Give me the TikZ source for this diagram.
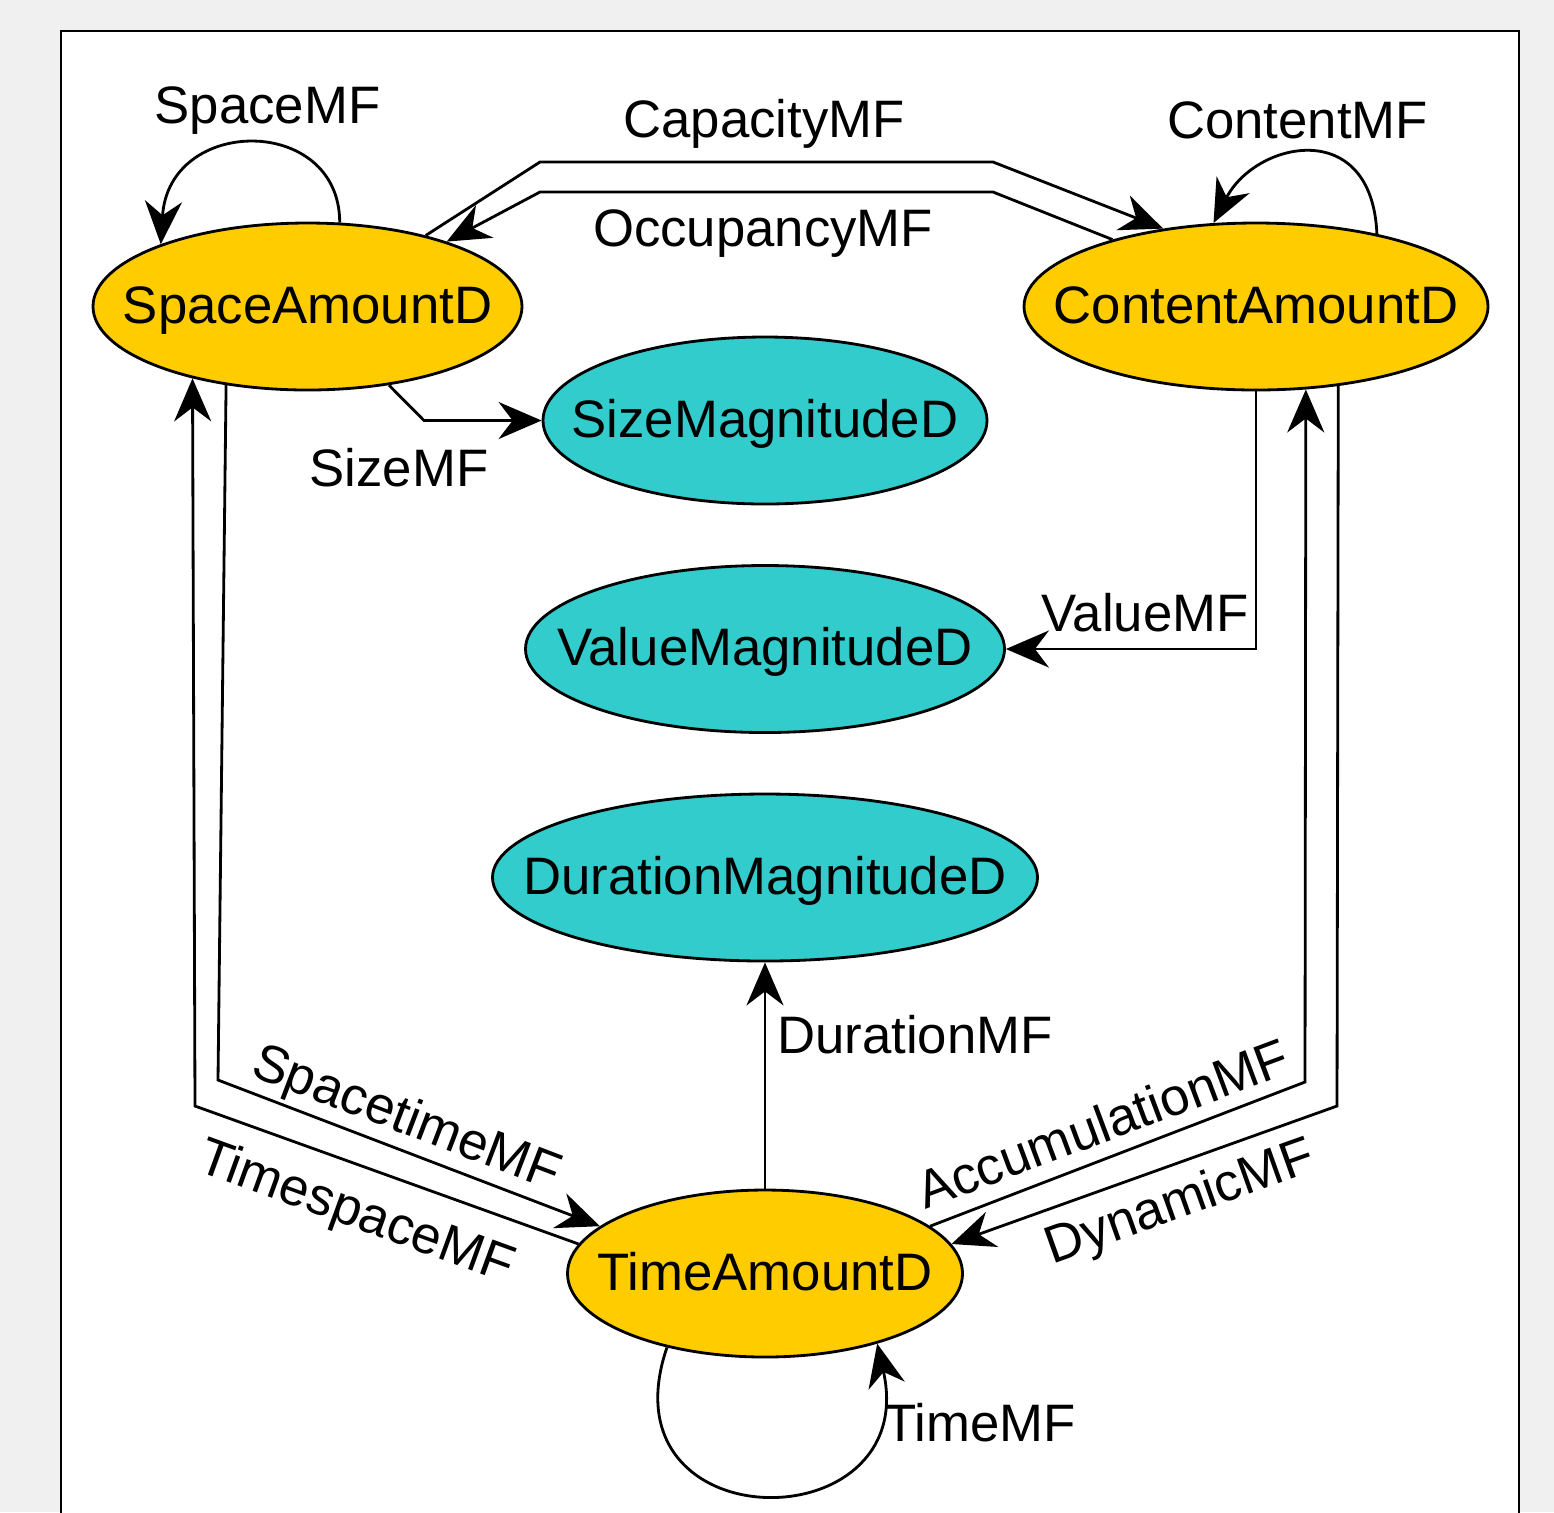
\documentclass[tikz,border=0pt]{standalone}
\usepackage{fontspec}
\setmainfont{Liberation Sans}
\usetikzlibrary{arrows.meta,positioning,shapes.geometric}
\definecolor{amountfill}{HTML}{FFCC00}
\definecolor{magfill}{HTML}{33CCCC}
\definecolor{canvas}{HTML}{F0F0F0}
\tikzstyle{amount}=[ellipse,draw=black,line width=0.8pt,fill=amountfill,
minimum height=1.67cm,inner sep=0pt]
\tikzstyle{magnitude}=[ellipse,draw=black,line width=0.8pt,fill=magfill,
minimum height=1.67cm,inner sep=0pt]
\tikzstyle{mf}=[line width=0.8pt,->]
\tikzstyle{mflabel}=[inner sep=0pt,anchor=base]

\begin{document}
\begin{tikzpicture}[node distance=2.285cm,
    >={Stealth[length=4.3mm,width=3.7mm,inset=1.4mm]},
    font=\fontsize{15}{18}\selectfont,
    every label/.style={inner sep=0pt,text height=0.95em,text depth=0pt}]
            \useasboundingbox (0,0) rectangle (15.54,-15.12);
            \fill[canvas] (0,0) rectangle (15.54,-15.12);
            \draw[fill=white,line width=0.6pt] (0.61,-0.31) rectangle (15.19,-15.40);

            % DOMAINS

            \node[amount,minimum width=4.29cm,label=center:SpaceAmountD] (space) at (3.075,-3.065) {};
            \node[amount,minimum width=4.64cm,label=center:ContentAmountD] (content) at (12.56,-3.065) {};
            \node[magnitude,minimum width=4.44cm,label=center:SizeMagnitudeD] (size) at (7.65,-4.205) {};
            \node[magnitude,minimum width=4.79cm,below of=size,label=center:ValueMagnitudeD] (value) {};
            \node[magnitude,minimum width=5.45cm,below of=value,label=center:DurationMagnitudeD] (duration) {};
            \node[amount,minimum width=3.95cm,node distance=3.96cm,below of=duration,label=center:TimeAmountD] (time) {};

            % SELF LOOPS

            \draw[mf] (space.69) .. controls +(0,1.08) and +(0.08,1.29) .. (space.157);
            \draw[mf] (content.31) .. controls +(-0.05,1.18) and +(0.42,0.82) .. (content.117);
            \draw[mf] (time.217) .. controls +(-0.67,-1.96) and +(0.45,-2.0) .. (time.328);

            % SPACE / CONTENT

            \draw[mf] (space.31) -- (5.40,-1.62) -- (9.93,-1.62) -- (content.140);
            \draw[mf] (content.155) -- (9.93,-1.92) -- (5.40,-1.92) -- (space.25);
            \draw[mf] (space.316) -- (4.24,-4.205) -- (size.west);
            \draw[mf] (content.south) |- (value.east);

            % TIME

            \draw[mf] (time.north) -- (duration.south);
            \draw[mf] (space.224) -- (2.18,-10.80) -- (time.164);
            \draw[mf] (time.171) -- (1.95,-11.06) -- (space.212);
            \draw[mf] (time.16) -- (13.05,-10.82) -- (content.301);
            \draw[mf] (content.316) -- (13.37,-11.06) -- (time.9);

            % MF LABELS

            \node[mflabel] (lspace) at (2.675,-1.23) {SpaceMF};
            \node[mflabel] (lcontent) at (12.975,-1.38) {ContentMF};
            \node[mflabel] (lcapacity) at (7.64,-1.37) {CapacityMF};
            \node[mflabel] (loccupancy) at (7.63,-2.46) {OccupancyMF};
            \node[mflabel] (lsize) at (3.99,-4.86) {SizeMF};
            \node[mflabel] (lvalue) at (11.45,-6.31) {ValueMF};
            \node[mflabel] (lduration) at (9.15,-10.53) {DurationMF};
            \node[mflabel] (ltime) at (9.80,-14.41) {TimeMF};
            \node[mflabel,rotate=-20.9] (lspacetime) at (4.01,-11.33) {SpacetimeMF};
            \node[mflabel,rotate=-20] (ltimespace) at (3.51,-12.27) {TimespaceMF};
            \node[mflabel,rotate=20.5] (laccumulation) at (11.09,-11.41) {AccumulationMF};
            \node[mflabel,rotate=19.6] (ldynamic) at (11.85,-12.17) {DynamicMF};

        \end{tikzpicture}
\end{document}
